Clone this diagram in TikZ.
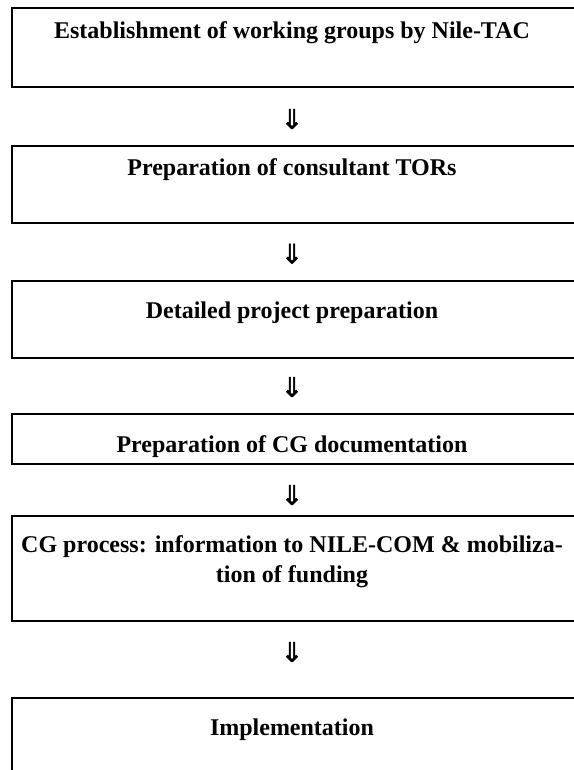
\documentclass[tikz,border=0pt]{standalone}
\usepackage{fontspec}
\setmainfont{Liberation Serif}
\newfontfamily\arrowfont[FakeBold=1.6]{DejaVu Sans}
\begin{document}
\begin{tikzpicture}[x=1pt,y=-1pt,
  stepbox/.style={draw, line width=2pt, rectangle, anchor=north west, inner sep=0pt, minimum width=600pt},
  steptext/.style={anchor=base, font=\fontsize{24}{28}\selectfont\bfseries, inner sep=0pt},
  flowarrow/.style={font=\fontsize{27}{30}\arrowfont, inner sep=0pt}]
\useasboundingbox (0,0) rectangle (573,770);
% boxes (open at the right, cut by the page edge)
\node[stepbox, minimum height=78.5pt] (b1) at (11,7.5) {};
\node[stepbox, minimum height=77.3pt] (b2) at (11,145) {};
\node[stepbox, minimum height=76.7pt] (b3) at (11,280) {};
\node[stepbox, minimum height=50pt]   (b4) at (11,413.3) {};
\node[stepbox, minimum height=105pt]  (b5) at (11,515) {};
\node[stepbox, minimum height=120pt]  (b6) at (11,697) {};
% texts
\node[steptext] (t1) at (292,39) {Establishment of working groups by Nile-TAC};
\node[steptext] (t2) at (292,175.5) {Preparation of consultant TORs};
\node[steptext] (t3) at (292,318.3) {Detailed project preparation};
\node[steptext] (t4) at (292,452.7) {Preparation of CG documentation};
\node[steptext] (t5a) at (292,552.7) {CG process: information to NILE-COM \& mobiliza-};
\node[steptext] (t5b) at (292,582) {tion of funding};
\node[steptext] (t6) at (292,735.7) {Implementation};
% arrows
\node[flowarrow] (a1) at (292,119) {⇓};
\node[flowarrow] (a2) at (292,253.7) {⇓};
\node[flowarrow] (a3) at (292,387) {⇓};
\node[flowarrow] (a4) at (292,495) {⇓};
\node[flowarrow] (a5) at (292,652) {⇓};
\end{tikzpicture}
\end{document}
